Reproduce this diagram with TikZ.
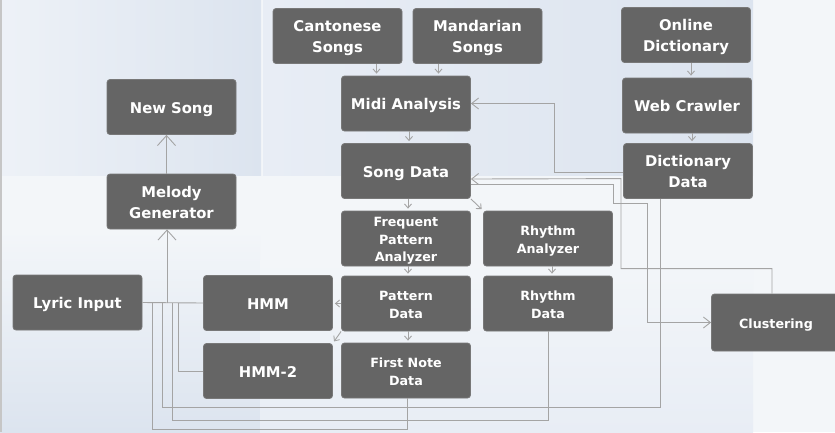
\documentclass[tikz,border=0pt]{standalone}
\usepackage{fontspec}
\setmainfont{DejaVu Sans}
\usetikzlibrary{arrows.meta}
\definecolor{boxgray}{HTML}{656565}
\definecolor{boxedge}{HTML}{787878}
\definecolor{wiregray}{HTML}{A4A4A4}
\definecolor{bgpale}{HTML}{F3F6F9}
\definecolor{bgmid}{HTML}{E8EDF5}
\definecolor{bgdeep}{HTML}{DCE4EF}
\tikzset{
  box/.style={draw=boxedge,fill=boxgray,rounded corners=3pt,line width=0.8pt,
    minimum width=129pt,minimum height=55pt,inner sep=0pt,text=white,align=center,
    font=\fontsize{14.8}{21}\selectfont\bfseries,text height=12.8pt,text depth=0pt},
  sbox/.style={box,font=\fontsize{12.7}{17.8}\selectfont\bfseries,text height=11.3pt},
  two/.style={text height=33.8pt},
  stwo/.style={text height=29.1pt},
  sthree/.style={text height=46.9pt},
  wire/.style={draw=wiregray,line width=0.9pt},
  tip/.style={wire,-{Straight Barb[length=4pt,width=7pt]},shorten >=2pt},
  midtip/.style={wire,-{Straight Barb[length=7pt,width=11pt]}},
  bigtip/.style={wire,-{Straight Barb[length=10pt,width=18pt]}},
}
\begin{document}
\begin{tikzpicture}[x=1pt,y=-1pt]
\useasboundingbox (0,0) rectangle (835,432);
% background panels
\fill[bgpale] (0,0) rectangle (835,432);
\shade[left color=bgmid!50!bgpale,right color=bgdeep] (0,0) rectangle (261,175);
\shade[left color=bgmid,right color=bgdeep] (263,0) rectangle (753,175);
\shade[top color=bgpale,bottom color=bgdeep] (0,230) rectangle (260,432);
\shade[top color=bgpale,bottom color=bgmid] (260,260) rectangle (753,432);
\draw[gray!45,line width=2pt] (1,0) -- (1,432);
% blocks
\node[box,two]     (cant)    at (337.5,36)  {Cantonese\\Songs};
\node[box,two]     (mand)    at (477.5,36)  {Mandarian\\Songs};
\node[box,two]     (online)  at (686,35)    {Online\\Dictionary};
\node[box]         (newsong) at (171.5,107) {New Song};
\node[box]         (midi)    at (406,103.5) {Midi Analysis};
\node[box]         (web)     at (687,105.5) {Web Crawler};
\node[box]         (song)    at (406,171)   {Song Data};
\node[box,two]     (dict)    at (688,171)   {Dictionary\\Data};
\node[box,two]     (melody)  at (171.5,201.5) {Melody\\Generator};
\node[sbox,sthree] (freq)    at (406,238.5) {Frequent\\Pattern\\Analyzer};
\node[sbox,stwo]   (rana)    at (548,238.5) {Rhythm\\Analyzer};
\node[box]         (lyric)   at (77.5,302.5) {Lyric Input};
\node[box]         (hmm)     at (268,303)   {HMM};
\node[sbox,stwo]   (pdata)   at (406,303.5) {Pattern\\Data};
\node[sbox,stwo]   (rdata)   at (548,303.5) {Rhythm\\Data};
\node[sbox,minimum height=57pt] (clust) at (776,322.5) {Clustering};
\node[box]         (hmm2)    at (268,371)   {HMM-2};
\node[sbox,stwo]   (first)   at (406,370.5) {First Note\\Data};
% short links
\draw[tip] ([xshift=39pt]cant.south) -- ([xshift=39pt]cant.south |- midi.north);
\draw[tip] ([xshift=-39pt]mand.south) -- ([xshift=-39pt]mand.south |- midi.north);
\draw[tip] ([xshift=3pt]midi.south) -- ([xshift=3pt]midi.south |- song.north);
\draw[tip] ([xshift=5pt]online.south) -- ([xshift=5pt]online.south |- web.north);
\draw[tip] ([xshift=5pt]web.south) -- ([xshift=5pt]web.south |- dict.north);
\draw[tip] ([xshift=2pt]song.south) -- ([xshift=2pt]song.south |- freq.north);
\draw[tip] (song.south east) -- (rana.north west);
\draw[tip] ([xshift=2pt]freq.south) -- ([xshift=2pt]freq.south |- pdata.north);
\draw[tip] ([xshift=4pt]rana.south) -- ([xshift=4pt]rana.south |- rdata.north);
\draw[tip] (pdata.west) -- (pdata.west -| hmm.east);
\draw[tip] (pdata.south west) -- (hmm2.north east);
\draw[tip] ([xshift=2pt]pdata.south) -- ([xshift=2pt]pdata.south |- first.north);
% feedback from dictionary and clustering
\draw[midtip] ([yshift=-1pt]dict.west) -- ++(-69,0) |- (midi.east);
\draw[midtip] ([xshift=-4pt]clust.north) -- ++(0,-25) -| ++(-151,-90) -- ([yshift=-8pt]song.east);
\draw[midtip] ([yshift=-13pt]song.east) -- ++(143,0) -- ++(0,19) -- ++(34,0) |- (clust.west);
% inputs of the melody generator
\coordinate (join) at (167,303);
\draw[wire] (lyric.east) -- (hmm.west);
\draw[wire] (hmm2.west) -| ([xshift=11pt]join);
\draw[wire] ([xshift=1pt]first.south) -- ++(0,31) -| ([xshift=-15pt]join);
\draw[wire] (rdata.south) -- ++(0,89) -| ([xshift=5pt]join);
\draw[wire] ([xshift=-28pt]dict.south) -- ++(0,209) -| ([xshift=-5pt]join);
\draw[bigtip] (join) -- (join |- melody.south);
\draw[bigtip] ([xshift=-5pt]melody.north) -- ([xshift=-5pt]melody.north |- newsong.south);
\end{tikzpicture}
\end{document}
